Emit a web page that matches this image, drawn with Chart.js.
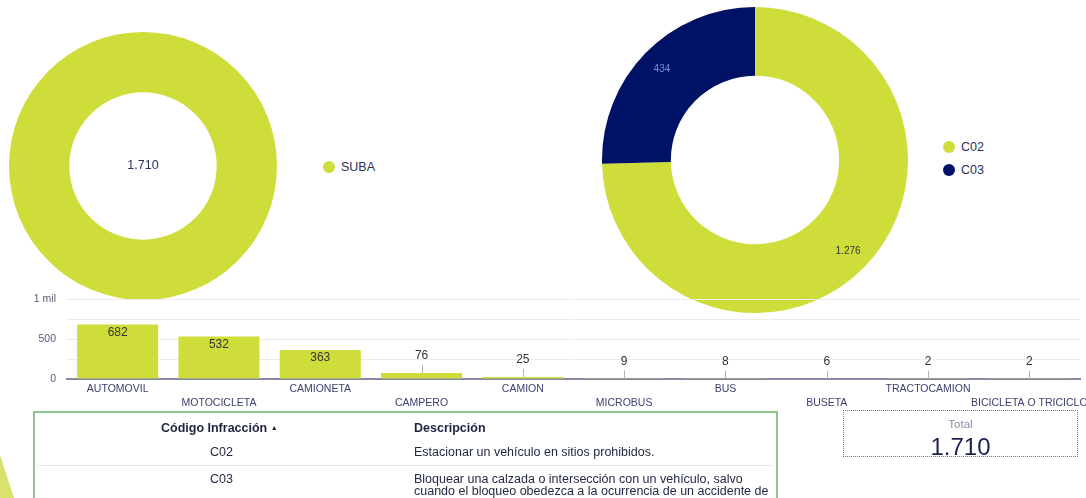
<!DOCTYPE html>
<html><head><meta charset="utf-8">
<script src="https://cdn.jsdelivr.net/npm/chart.js@4.4.1/dist/chart.umd.min.js"></script>
<style>
html,body{margin:0;padding:0;background:#fff;width:1086px;height:498px;overflow:hidden;font-family:"Liberation Sans",Arial,sans-serif;}
.abs{position:absolute;}
#d1{left:9px;top:32px;width:268px;height:268px;}
#d2{left:602px;top:7px;width:306px;height:306px;}
#barWrap{left:0;top:288px;width:1086px;height:124px;z-index:2;}
.leg{position:absolute;font-size:12.5px;color:#2b2f5c;display:flex;align-items:center;height:16px;white-space:nowrap;}
.leg i{display:inline-block;width:12px;height:12px;border-radius:50%;margin-right:6px;}
#deco{left:0;top:455px;width:14px;height:43px;background:#d9e26d;clip-path:polygon(0 0,100% 100%,0 100%);}
#tbl{left:33px;top:411px;width:741px;height:100px;border:2px solid #8cc68c;z-index:3;background:transparent;}
.t{position:absolute;font-size:12.5px;color:#252a45;white-space:nowrap;line-height:12px;}
.th{font-weight:bold;color:#1f2340;}
#sep{position:absolute;left:2px;top:52px;width:737px;height:1px;background:#e9e9e9;}
#tot{left:843px;top:410px;width:233px;height:45px;border:1px dotted #6d7190;z-index:3;}
#totL{position:absolute;left:0;width:100%;top:7px;text-align:center;font-size:11.5px;color:#8a8da8;}
#totV{position:absolute;left:0;width:100%;top:22px;text-align:center;font-size:24px;color:#1d2150;line-height:28px;}
</style></head>
<body>
<div id="deco" class="abs"></div>
<div id="d1" class="abs"><canvas id="c1"></canvas></div>
<div id="d2" class="abs"><canvas id="c2"></canvas></div>
<div id="barWrap" class="abs"><canvas id="c3"></canvas></div>
<div id="leg1"></div>
<div id="leg2"></div>
<div id="tbl" class="abs">
  <div class="t th" style="left:126px;top:9px;">Código Infracción <span style="font-size:7px;vertical-align:2px;">&#9650;</span></div>
  <div class="t th" style="left:379px;top:9px;">Descripción</div>
  <div class="t" style="left:175px;top:33px;">C02</div>
  <div class="t" style="left:379px;top:33px;">Estacionar un vehículo en sitios prohibidos.</div>
  <div id="sep"></div>
  <div class="t" style="left:175px;top:60px;">C03</div>
  <div class="t" style="left:379px;top:60px;white-space:normal;width:360px;">Bloquear una calzada o intersección con un vehículo, salvo<br>cuando el bloqueo obedezca a la ocurrencia de un accidente de<br>tránsito.</div>
</div>
<div id="tot" class="abs"><div id="totL">Total</div><div id="totV"></div></div>
<script>
// ---- data ----
const regionLabels = ['SUBA'];
const regionValues = [1710];
const codeLabels = ['C02', 'C03'];
const codeValues = [1276, 434];
const vehicleLabels = ['AUTOMOVIL','MOTOCICLETA','CAMIONETA','CAMPERO','CAMION','MICROBUS','BUS','BUSETA','TRACTOCAMION','BICICLETA O TRICICLO'];
const vehicleValues = [682, 532, 363, 76, 25, 9, 8, 6, 2, 2];
const yTickValues = [0, 500, 1000];
const yTickLabels = ['0', '500', '1 mil'];

const LIME = '#cfdd3a';
const NAVY = '#001265';
const FONT = '"Liberation Sans", Arial, sans-serif';
const fmt = n => String(n).replace(/\B(?=(\d{3})+(?!\d))/g, '.');

// legends
function buildLegend(id, labels, colors, left, top, gap){
  const el = document.getElementById(id);
  labels.forEach((l,i)=>{
    const d = document.createElement('div');
    d.className = 'leg';
    d.style.left = left + 'px';
    d.style.top = (top + i*gap) + 'px';
    d.innerHTML = '<i style="background:'+colors[i]+'"></i>' + l;
    el.appendChild(d);
  });
}
buildLegend('leg1', regionLabels, [LIME], 323, 159, 23);
buildLegend('leg2', codeLabels, [LIME, NAVY], 943, 139, 23);
document.getElementById('totV').textContent = fmt(regionValues.reduce((a,b)=>a+b,0));

const centerText = {
  id: 'centerText',
  afterDraw(chart, args, opts){
    if (!opts || !opts.text) return;
    const arc = chart.getDatasetMeta(0).data[0];
    const ctx = chart.ctx;
    ctx.save();
    ctx.font = opts.font; ctx.fillStyle = opts.color;
    ctx.textAlign = 'center'; ctx.textBaseline = 'middle';
    ctx.fillText(opts.text, arc.x, arc.y);
    ctx.restore();
  }
};
const sliceLabels = {
  id: 'sliceLabels',
  afterDatasetsDraw(chart, args, opts){
    if (!opts || !opts.colors) return;
    const ctx = chart.ctx;
    const ds = chart.data.datasets[0];
    ctx.save();
    ctx.font = opts.font; ctx.textAlign = 'center'; ctx.textBaseline = 'middle';
    chart.getDatasetMeta(0).data.forEach((arc, i) => {
      const p = arc.getProps(['x','y','startAngle','endAngle','outerRadius'], true);
      const mid = (p.startAngle + p.endAngle) / 2;
      const r = p.outerRadius * opts.ratio;
      ctx.fillStyle = opts.colors[i];
      ctx.fillText(fmt(ds.data[i]), p.x + Math.cos(mid) * r, p.y + Math.sin(mid) * r);
    });
    ctx.restore();
  }
};
const barLabels = {
  id: 'barLabels',
  afterDatasetsDraw(chart){
    const ctx = chart.ctx;
    const ds = chart.data.datasets[0];
    ctx.save();
    ctx.font = '12px ' + FONT; ctx.textAlign = 'center'; ctx.textBaseline = 'middle';
    chart.getDatasetMeta(0).data.forEach((bar, i) => {
      const p = bar.getProps(['x','y','base'], true);
      const h = p.base - p.y;
      const txt = fmt(ds.data[i]);
      ctx.fillStyle = '#333';
      if (h >= 20) {
        ctx.fillText(txt, p.x, p.y + 8);
      } else {
        ctx.strokeStyle = '#b3b3b3'; ctx.lineWidth = 1;
        ctx.beginPath(); ctx.moveTo(Math.round(p.x) + 0.5, p.y - 8); ctx.lineTo(Math.round(p.x) + 0.5, p.y); ctx.stroke();
        ctx.fillText(txt, p.x, p.y - 17);
      }
    });
    ctx.restore();
  }
};

const doughnutBase = {
  responsive: true, maintainAspectRatio: false, animation: false,
  cutout: '55%',
  layout: { padding: 0 },
  plugins: { legend: { display: false }, tooltip: { enabled: false } }
};

new Chart(document.getElementById('c1'), {
  type: 'doughnut',
  data: { labels: regionLabels, datasets: [{ data: regionValues, backgroundColor: [LIME], borderWidth: 0, hoverOffset: 0 }] },
  options: Object.assign({}, doughnutBase, {
    plugins: { legend: { display: false }, tooltip: { enabled: false },
      centerText: { text: fmt(regionValues[0]), font: '12.5px ' + FONT, color: '#2e3158' } }
  }),
  plugins: [centerText]
});

new Chart(document.getElementById('c2'), {
  type: 'doughnut',
  data: { labels: codeLabels, datasets: [{ data: codeValues, backgroundColor: [LIME, NAVY], borderWidth: 0, hoverOffset: 0 }] },
  options: Object.assign({}, doughnutBase, {
    plugins: { legend: { display: false }, tooltip: { enabled: false },
      sliceLabels: { colors: ['#333333', '#7b8be0'], font: '10px ' + FONT, ratio: 0.85 } }
  }),
  plugins: [sliceLabels]
});

new Chart(document.getElementById('c3'), {
  type: 'bar',
  data: {
    labels: vehicleLabels.map((l, i) => i % 2 ? ['', l] : l),
    datasets: [{ data: vehicleValues, backgroundColor: LIME, borderWidth: 0, categoryPercentage: 0.8, barPercentage: 1.0 }]
  },
  options: {
    responsive: true, maintainAspectRatio: false, animation: false,
    layout: { padding: { top: 11, right: 6, left: 0, bottom: 0 } },
    plugins: { legend: { display: false }, tooltip: { enabled: false } },
    scales: {
      x: {
        grid: { display: false, drawTicks: false },
        border: { display: true, color: '#8689a2', width: 2 },
        ticks: { autoSkip: false, maxRotation: 0, minRotation: 0, padding: 3,
          color: '#3d416c', font: { family: FONT, size: 10.5, lineHeight: '14px' } },
        afterFit(s){ s.height = 33; s.paddingRight = 0; s.paddingLeft = 0; }
      },
      y: {
        min: 0, max: 1000,
        grid: { color: '#ececec', drawTicks: false, lineWidth: 1 },
        border: { display: false },
        ticks: { stepSize: 250, padding: 11, color: '#555a7c', font: { family: FONT, size: 10.5 },
          callback: v => { const k = yTickValues.indexOf(v); return k >= 0 ? yTickLabels[k] : ''; } },
        afterFit(s){ s.width = 67; s.paddingTop = 0; s.paddingBottom = 0; }
      }
    }
  },
  plugins: [barLabels]
});
</script>
</body></html>
